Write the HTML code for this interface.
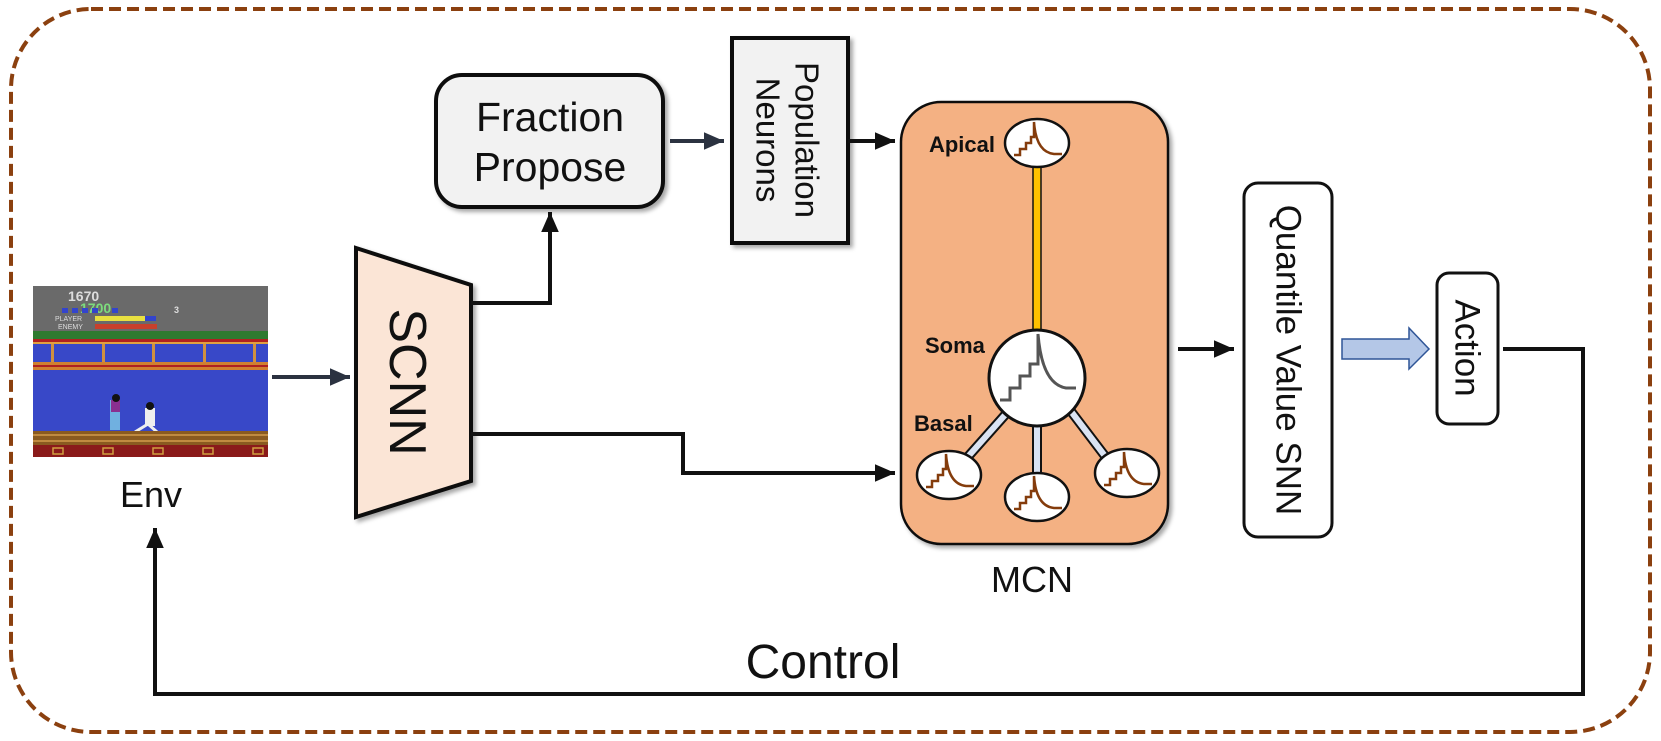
<!DOCTYPE html>
<html><head><meta charset="utf-8"><style>
html,body{margin:0;padding:0;background:#fff;}
svg{display:block;}
text{font-family:"Liberation Sans",Arial,sans-serif;}
</style></head><body>
<svg width="1661" height="741" viewBox="0 0 1661 741" xmlns="http://www.w3.org/2000/svg">
<defs>
<filter id="sh" x="-10%" y="-10%" width="130%" height="130%"><feDropShadow dx="3" dy="3" stdDeviation="2" flood-color="#000" flood-opacity="0.35"/></filter>
<marker id="ah" markerWidth="6" markerHeight="6" refX="5" refY="3" orient="auto" markerUnits="strokeWidth"><path d="M0,0.8 L5,3 L0,5.2 z" fill="#111"/></marker>
<marker id="ah2" markerWidth="6" markerHeight="6" refX="5" refY="3" orient="auto" markerUnits="strokeWidth"><path d="M0,0.8 L5,3 L0,5.2 z" fill="#2b3240"/></marker>
</defs>

<rect x="11" y="9" width="1639" height="723" rx="80" ry="80" fill="none" stroke="#8B400F" stroke-width="4" stroke-dasharray="12,6"/>

<g>
<rect x="33" y="286" width="235" height="171" fill="#3848c8"/>
<rect x="33" y="286" width="235" height="45" fill="#6a6a6a"/>
<text x="68" y="301" font-size="14" fill="#ddd" font-weight="bold" font-family="Liberation Mono">1670</text>
<text x="80" y="313" font-size="14" fill="#7ddc7d" font-weight="bold" font-family="Liberation Mono">1700</text>
<rect x="62" y="308" width="6" height="5" fill="#3344cc"/><rect x="72" y="308" width="6" height="5" fill="#3344cc"/><rect x="82" y="308" width="6" height="5" fill="#3344cc"/><rect x="92" y="308" width="6" height="5" fill="#3344cc"/><rect x="112" y="308" width="6" height="5" fill="#3344cc"/>
<text x="174" y="313" font-size="9" fill="#ddd" font-weight="bold">3</text>
<text x="55" y="321" font-size="7" fill="#ddd" font-family="Liberation Mono">PLAYER</text>
<text x="58" y="329" font-size="7" fill="#ddd" font-family="Liberation Mono">ENEMY</text>
<rect x="95" y="316" width="50" height="5" fill="#e8e040"/><rect x="145" y="316" width="11" height="5" fill="#3344cc"/>
<rect x="95" y="324" width="62" height="5" fill="#c8402c"/>
<rect x="33" y="331" width="235" height="8" fill="#2e7a30"/>
<rect x="33" y="339" width="235" height="3" fill="#b02020"/>
<rect x="33" y="342" width="235" height="2" fill="#e0a040"/>
<rect x="33" y="344" width="235" height="18" fill="#3848c8"/>
<rect x="51" y="344" width="3" height="18" fill="#d09040"/><rect x="102" y="344" width="3" height="18" fill="#d09040"/><rect x="152" y="344" width="3" height="18" fill="#d09040"/><rect x="203" y="344" width="3" height="18" fill="#d09040"/><rect x="253" y="344" width="3" height="18" fill="#d09040"/>
<rect x="33" y="362" width="235" height="8" fill="#d08030"/>
<rect x="33" y="365" width="235" height="2" fill="#b02020"/>
<rect x="33" y="370" width="235" height="61" fill="#3848c8"/>
<rect x="110" y="400" width="10" height="30" fill="#70b0e0"/><rect x="111" y="400" width="9" height="12" fill="#8a3090"/><circle cx="116" cy="398" r="4" fill="#111"/>
<rect x="145" y="408" width="10" height="18" fill="#eee"/><circle cx="150" cy="406" r="4" fill="#111"/><path d="M135,432 L148,424 L157,432" stroke="#eee" stroke-width="3" fill="none"/>
<rect x="33" y="431" width="235" height="14" fill="#8a5a20"/>
<rect x="33" y="434" width="235" height="2" fill="#c08a40"/><rect x="33" y="440" width="235" height="2" fill="#c08a40"/>
<rect x="33" y="445" width="235" height="12" fill="#8a1a1a"/>
<g fill="none" stroke="#d0a040" stroke-width="1.5"><rect x="53" y="448" width="10" height="6"/><rect x="103" y="448" width="10" height="6"/><rect x="153" y="448" width="10" height="6"/><rect x="203" y="448" width="10" height="6"/><rect x="253" y="448" width="10" height="6"/></g>
</g>
<text x="151" y="507" font-size="36" text-anchor="middle" fill="#111">Env</text>

<line x1="272" y1="377" x2="350" y2="377" stroke="#2b3240" stroke-width="4" marker-end="url(#ah2)"/>

<polygon points="356,248 471,285 471,481 356,517" fill="#FBE5D6" stroke="#111" stroke-width="4" filter="url(#sh)"/>
<text transform="translate(407,382) rotate(90)" font-size="52" text-anchor="middle" dominant-baseline="central" fill="#111">SCNN</text>

<polyline points="471,303 550,303 550,212" fill="none" stroke="#111" stroke-width="4" marker-end="url(#ah)"/>
<polyline points="471,434 683,434 683,473 895,473" fill="none" stroke="#111" stroke-width="4" marker-end="url(#ah)"/>

<rect x="436" y="75" width="227" height="132" rx="26" fill="#F2F2F2" stroke="#111" stroke-width="4" filter="url(#sh)"/>
<text x="550" y="131" font-size="41" text-anchor="middle" fill="#111">Fraction</text>
<text x="550" y="181" font-size="41" text-anchor="middle" fill="#111">Propose</text>

<line x1="670" y1="141" x2="724" y2="141" stroke="#2b3240" stroke-width="4" marker-end="url(#ah2)"/>

<rect x="732" y="38" width="116" height="205" fill="#F2F2F2" stroke="#111" stroke-width="4" filter="url(#sh)"/>
<text transform="translate(807,140) rotate(90)" font-size="33" text-anchor="middle" dominant-baseline="central" fill="#111">Population</text>
<text transform="translate(768,140) rotate(90)" font-size="33" text-anchor="middle" dominant-baseline="central" fill="#111">Neurons</text>

<line x1="848" y1="141" x2="895" y2="141" stroke="#111" stroke-width="4" marker-end="url(#ah)"/>

<rect x="901" y="102" width="267" height="442" rx="40" fill="#F4B183" stroke="#111" stroke-width="2.5" filter="url(#sh)"/>
<text x="1032" y="592" font-size="36" text-anchor="middle" fill="#111">MCN</text>

<rect x="1033" y="165" width="8" height="168" fill="#FFC000" stroke="#111" stroke-width="1.5"/>
<g stroke="#111" stroke-width="10" stroke-linecap="butt"><line x1="1005" y1="415" x2="965" y2="460"/><line x1="1037" y1="420" x2="1037" y2="475"/><line x1="1070" y1="410" x2="1108" y2="460"/></g>
<g stroke="#DAE3F3" stroke-width="6"><line x1="1005" y1="415" x2="965" y2="460"/><line x1="1037" y1="420" x2="1037" y2="475"/><line x1="1070" y1="410" x2="1108" y2="460"/></g>

<circle cx="1037" cy="378" r="48" fill="#fff" stroke="#111" stroke-width="3"/>
<path d="M1000,400 h10 v-12 h10 v-12 h10 v-12 h8 v-30 q4,50 28,54 h10" fill="none" stroke="#555" stroke-width="3"/>

<g fill="#fff" stroke="#111" stroke-width="2.5">
<ellipse cx="1037" cy="143" rx="32" ry="24"/>
<ellipse cx="949" cy="475" rx="32" ry="24"/>
<ellipse cx="1037" cy="497" rx="32" ry="24"/>
<ellipse cx="1127" cy="473" rx="32" ry="24"/>
</g>
<g fill="none" stroke="#843C0C" stroke-width="2.5">
<path d="M1014,155 h6 v-6 h6 v-6 h5 v-6 h3 v-15 q2,30 20,32 h8"/>
<path d="M926,487 h6 v-6 h6 v-6 h5 v-6 h3 v-15 q2,30 20,32 h8"/>
<path d="M1014,509 h6 v-6 h6 v-6 h5 v-6 h3 v-15 q2,30 20,32 h8"/>
<path d="M1104,485 h6 v-6 h6 v-6 h5 v-6 h3 v-15 q2,30 20,32 h8"/>
</g>
<g font-size="22" font-weight="bold" fill="#111">
<text x="995" y="152" text-anchor="end">Apical</text>
<text x="925" y="353">Soma</text>
<text x="914" y="431">Basal</text>
</g>

<line x1="1178" y1="349" x2="1234" y2="349" stroke="#111" stroke-width="4" marker-end="url(#ah)"/>

<rect x="1244" y="183" width="88" height="354" rx="14" fill="#fff" stroke="#111" stroke-width="3"/>
<text transform="translate(1288,360) rotate(90)" font-size="35" text-anchor="middle" dominant-baseline="central" fill="#111">Quantile Value SNN</text>

<path d="M1342,339 H1409 V328 L1429,349 L1409,369 V359 H1342 Z" fill="#B4C7E7" stroke="#2F5597" stroke-width="1.5"/>

<rect x="1437" y="273" width="61" height="151" rx="12" fill="#fff" stroke="#111" stroke-width="3"/>
<text transform="translate(1467,348) rotate(90)" font-size="35" text-anchor="middle" dominant-baseline="central" fill="#111">Action</text>

<polyline points="1503,349 1583,349 1583,694 155,694 155,528" fill="none" stroke="#111" stroke-width="4" marker-end="url(#ah)"/>
<text x="823" y="678" font-size="48" text-anchor="middle" fill="#111">Control</text>
</svg>
</body></html>
